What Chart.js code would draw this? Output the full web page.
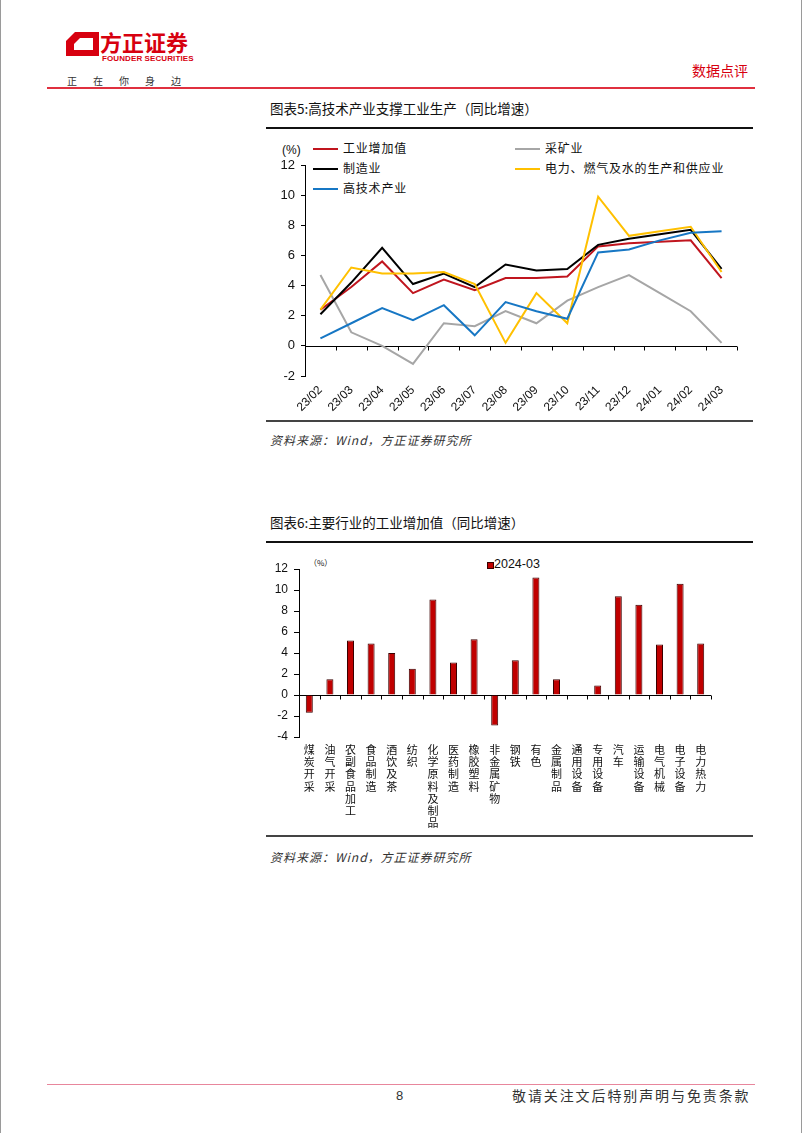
<!DOCTYPE html>
<html><head><meta charset="utf-8">
<script src="https://cdn.jsdelivr.net/npm/chart.js@4.4.1/dist/chart.umd.min.js"></script>
<style>
html,body{margin:0;padding:0;background:#fff;}
#page{position:relative;width:802px;height:1133px;overflow:hidden;font-family:"Noto Sans CJK SC",sans-serif;background:#fff;}
.abs{position:absolute;white-space:nowrap;line-height:1;}
.cjk{font-family:"Noto Sans CJK SC",sans-serif;}
.lat{font-family:"Liberation Sans",Arial,sans-serif;}
canvas{position:absolute;}
</style></head>
<body><div id="page">
<div class="abs" style="left:0;top:0;width:1px;height:1133px;background:#9a9a9a"></div>
<div class="abs" style="left:801px;top:0;width:1px;height:1133px;background:#9a9a9a"></div>

<!-- header -->
<svg class="abs" style="left:66px;top:32px" width="33" height="24" viewBox="0 0 33 24">
  <polygon points="9,0 33,0 33,24 0,24 0,9" fill="#D7000F"/>
  <polygon points="14,6 27,6 27,18 8,18 8,12" fill="#fff"/>
</svg>
<div class="abs cjk" style="left:100px;top:30px;font-size:22px;font-weight:700;color:#D7000F;letter-spacing:0px">方正证券</div>
<div class="abs lat" style="left:102px;top:55px;font-size:8px;font-weight:700;color:#D7000F;letter-spacing:0.1px">FOUNDER SECURITIES</div>
<div class="abs cjk" style="left:67px;top:76px;font-size:10px;color:#333;letter-spacing:16px">正在你身边</div>
<div class="abs cjk" style="left:692px;top:63px;font-size:14px;color:#D7000F">数据点评</div>
<div class="abs" style="left:47px;top:87px;width:708px;height:2px;background:#E0303F"></div>

<!-- chart 1 -->
<div class="abs cjk" style="left:270px;top:102px;font-size:13.5px;color:#111">图表5:高技术产业支撑工业生产（同比增速）</div>
<div class="abs" style="left:266px;top:127px;width:487px;height:2px;background:#111"></div>
<div class="abs lat" style="left:282px;top:144px;font-size:12px;color:#111">(%)</div>
<div id="legend1"></div>
<canvas id="c1" width="483" height="278" style="left:262px;top:140px"></canvas>
<div class="abs" style="left:266px;top:420px;width:487px;height:2px;background:#444"></div>
<div class="abs cjk" style="left:270px;top:434px;font-size:12px;font-style:italic;color:#333;letter-spacing:1px">资料来源：Wind，方正证券研究所</div>

<!-- chart 2 -->
<div class="abs cjk" style="left:270px;top:516px;font-size:13.5px;color:#111">图表6:主要行业的工业增加值（同比增速）</div>
<div class="abs" style="left:266px;top:541px;width:487px;height:2px;background:#111"></div>
<div class="abs cjk" style="left:309px;top:559px;font-size:8px;color:#111">（%）</div>
<div id="legend2"></div>
<canvas id="c2" width="483" height="285" style="left:262px;top:548px"></canvas>
<div class="abs" style="left:266px;top:835px;width:487px;height:2px;background:#444"></div>
<div class="abs cjk" style="left:270px;top:851px;font-size:12px;font-style:italic;color:#333;letter-spacing:1px">资料来源：Wind，方正证券研究所</div>

<!-- footer -->
<div class="abs" style="left:47px;top:1084px;width:708px;height:1px;background:#E8869C"></div>
<div class="abs lat" style="left:396px;top:1089px;font-size:13px;color:#333">8</div>
<div class="abs cjk" style="left:512px;top:1088px;font-size:14px;color:#333;letter-spacing:1.9px">敬请关注文后特别声明与免责条款</div>
</div>

<script>
// ---------- data ----------
const months = ['23/02','23/03','23/04','23/05','23/06','23/07','23/08','23/09','23/10','23/11','23/12','24/01','24/02','24/03'];
const seriesNames = ['工业增加值','采矿业','制造业','电力、燃气及水的生产和供应业','高技术产业'];
const industrial    = [2.4, 3.9, 5.6, 3.5, 4.4, 3.7, 4.5, 4.5, 4.6, 6.6, 6.8, 6.9, 7.0, 4.5];
const mining        = [4.7, 0.9, 0.0,-1.2, 1.5, 1.3, 2.3, 1.5, 3.0, 3.9, 4.7, 3.5, 2.3, 0.2];
const manufacturing = [2.1, 4.2, 6.5, 4.1, 4.8, 3.9, 5.4, 5.0, 5.1, 6.7, 7.1, 7.4, 7.7, 5.1];
const utilities     = [2.4, 5.2, 4.8, 4.8, 4.9, 4.1, 0.2, 3.5, 1.5, 9.9, 7.3, 7.6, 7.9, 4.9];
const hightech      = [0.5, 1.5, 2.5, 1.7, 2.7, 0.7, 2.9, 2.3, 1.8, 6.2, 6.4, 7.0, 7.5, 7.6];
const yTicks1 = [-2, 0, 2, 4, 6, 8, 10, 12];

const industries = ['煤炭开采','油气开采','农副食品加工','食品制造','酒饮及茶','纺织','化学原料及制品','医药制造','橡胶塑料','非金属矿物','钢铁','有色','金属制品','通用设备','专用设备','汽车','运输设备','电气机械','电子设备','电力热力'];
const growth2403 = [-1.7, 1.5, 5.2, 4.9, 4.0, 2.5, 9.1, 3.1, 5.3, -2.9, 3.3, 11.2, 1.5, 0.0, 0.9, 9.4, 8.6, 4.8, 10.6, 4.9];
const seriesName2 = '2024-03';
const yTicks2 = [-4, -2, 0, 2, 4, 6, 8, 10, 12];

// ---------- styles ----------
const colors1 = ['#C0151E','#A6A6A6','#000000','#FFC000','#1777C4'];
const LAT = '"Liberation Sans", Arial, sans-serif';
const CJK = '"Noto Sans CJK SC", sans-serif';

const zeroAxis = {
  id: 'zeroAxis',
  beforeDatasetsDraw(chart, args, opts) {
    const {ctx, chartArea, scales} = chart;
    const x = scales.x, y = scales.y;
    const y0 = Math.round(y.getPixelForValue(0)) + 0.5;
    ctx.save();
    ctx.strokeStyle = '#000';
    ctx.lineWidth = 1;
    ctx.beginPath();
    ctx.moveTo(chartArea.left, y0);
    ctx.lineTo(chartArea.right, y0);
    const n = x.getLabels().length;
    for (let i = 0; i <= n; i++) {
      const xx = Math.round(x.getPixelForValue(i - 0.5)) + 0.5;
      ctx.moveTo(xx, y0);
      ctx.lineTo(xx, y0 + (opts.len || 4));
    }
    ctx.stroke();
    ctx.restore();
  }
};

// legend 1 (HTML)
const legendPos = [[313,149],[515,149],[313,169],[515,169],[313,189]];
const lg = document.getElementById('legend1');
seriesNames.forEach((name, i) => {
  const [lx, ly] = legendPos[i];
  const line = document.createElement('div');
  line.className = 'abs';
  line.style.cssText = `left:${lx}px;top:${ly-1}px;width:25px;height:2px;background:${colors1[i]}`;
  lg.appendChild(line);
  const t = document.createElement('div');
  t.className = 'abs cjk';
  t.style.cssText = `left:${lx+30}px;top:${ly-7}px;font-size:12px;color:#111;letter-spacing:0.8px`;
  t.textContent = name;
  lg.appendChild(t);
});

// legend 2 (HTML)
const lg2 = document.getElementById('legend2');
lg2.innerHTML = `<div class="abs" style="left:487px;top:562px;width:5px;height:5px;background:#C00000;border:1px solid #3a0000"></div>
<div class="abs lat" style="left:494px;top:558px;font-size:12.5px;color:#111">${seriesName2}</div>`;

const data1 = [industrial, mining, manufacturing, utilities, hightech];

new Chart(document.getElementById('c1'), {
  type: 'line',
  data: {
    labels: months,
    datasets: data1.map((d, i) => ({
      label: seriesNames[i], data: d, borderColor: colors1[i], backgroundColor: colors1[i],
      borderWidth: 2, pointRadius: 0, tension: 0, fill: false, order: data1.length - i
    }))
  },
  options: {
    responsive: false, animation: false, devicePixelRatio: 1,
    layout: {padding: {left: 0, right: 8, top: 25, bottom: 0}},
    plugins: {legend: {display: false}, tooltip: {enabled: false}, zeroAxis: {len: 4}},
    scales: {
      x: {
        type: 'category', offset: true,
        grid: {display: false, drawTicks: false}, border: {display: false},
        ticks: {autoSkip: false, minRotation: 45, maxRotation: 45, padding: 7, color: '#111', font: {family: LAT, size: 12}},
        afterFit: s => { s.height = 42; }
      },
      y: {
        min: -2, max: 12,
        afterBuildTicks: s => { s.ticks = yTicks1.map(v => ({value: v})); },
        ticks: {color: '#111', padding: 6, font: {family: LAT, size: 13}},
        grid: {drawOnChartArea: false, drawTicks: true, tickLength: 4, color: '#000', tickColor: '#000'},
        border: {display: true, color: '#000', width: 1},
        afterFit: s => { s.width = 43; }
      }
    }
  },
  plugins: [zeroAxis]
});

new Chart(document.getElementById('c2'), {
  type: 'bar',
  data: {
    labels: industries.map(s => Array.from(s)),
    datasets: [{
      label: seriesName2, data: growth2403,
      backgroundColor: '#C00000', borderColor: '#3a0000', borderWidth: 1,
      barPercentage: 0.34, categoryPercentage: 1
    }]
  },
  options: {
    responsive: false, animation: false, devicePixelRatio: 1,
    layout: {padding: {left: 0, right: 34, top: 21, bottom: 0}},
    plugins: {legend: {display: false}, tooltip: {enabled: false}, zeroAxis: {len: 4}},
    scales: {
      x: {
        type: 'category', offset: true,
        grid: {display: false, drawTicks: false}, border: {display: false},
        ticks: {autoSkip: false, maxRotation: 0, minRotation: 0, padding: 7, color: '#111', font: {family: CJK, size: 11, lineHeight: 1.1}},
        afterFit: s => { s.height = 96; }
      },
      y: {
        min: -4, max: 12,
        afterBuildTicks: s => { s.ticks = yTicks2.map(v => ({value: v})); },
        ticks: {color: '#111', padding: 6, font: {family: LAT, size: 12}},
        grid: {drawOnChartArea: false, drawTicks: true, tickLength: 5, color: '#000', tickColor: '#000'},
        border: {display: true, color: '#000', width: 1},
        afterFit: s => { s.width = 37; }
      }
    }
  },
  plugins: [zeroAxis]
});
</script>
</body></html>
